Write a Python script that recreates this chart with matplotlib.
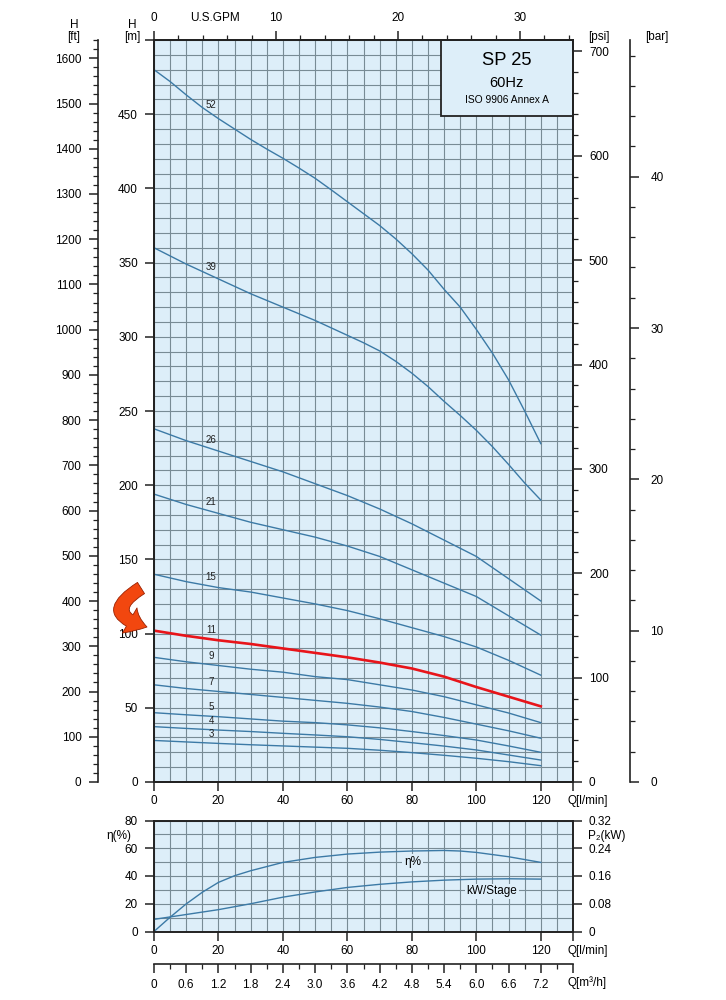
import numpy as np
import matplotlib.pyplot as plt
from matplotlib.patches import Rectangle, FancyArrowPatch

plt.rcParams['font.family'] = ['Liberation Sans', 'DejaVu Sans']
plt.rcParams['font.size'] = 8.5

# flow points [l/min]
q_lpm = [0, 10, 20, 30, 40, 50, 60, 70, 80, 90, 100, 110, 120]
q_fine = [0, 5, 10, 15, 20, 25, 30, 35, 40, 45, 50, 55, 60, 65, 70, 75, 80,
          85, 90, 95, 100, 105, 110, 115, 120]

# head curves [m], one per number of stages
stages = ['52', '39', '26', '21', '15', '11', '9', '7', '5', '4', '3']
h52 = [480, 472, 463, 454.5, 447, 440, 433, 426.5, 420.3, 413.7, 406.8, 399,
       391, 383, 375, 366, 356, 345, 332, 320, 305, 289, 271, 250, 228]
h39 = [360, 354.5, 349, 344, 339, 334, 329, 324.5, 320, 315.5, 311, 306, 301,
       296, 290.5, 283.5, 275.5, 266.5, 256.5, 247, 237, 226, 214, 201.5, 190]
h26 = [238, 230, 223, 216, 209, 201, 193, 184, 174, 163, 152, 137, 122]
h21 = [194, 187, 181, 175, 170, 165, 159, 152, 143, 134, 125, 112, 99]
h15 = [140, 135, 131, 128, 124, 120, 115.5, 110, 104, 98, 91, 82, 72]
h11 = [102, 98.5, 95.5, 93, 90, 87, 84, 80.5, 76.5, 71, 64, 57.5, 51]
h9 = [84, 81, 78.5, 76, 74, 71, 69, 65.5, 62, 57.5, 52, 46.5, 40]
h7 = [65.5, 63, 61, 59, 57, 55, 53, 50.5, 47.5, 43.5, 39, 34.5, 29.5]
h5 = [46.7, 45.3, 44, 42.5, 41, 40, 38.5, 36.5, 34, 31.3, 28.3, 24.3, 20]
h4 = [37.3, 36.1, 35, 34, 32.8, 31.7, 30.5, 28.7, 26.5, 24.2, 21.6, 18.2, 14.8]
h3 = [28, 27, 26, 25.1, 24.3, 23.5, 22.7, 21.4, 19.8, 18, 16, 13.7, 11]
heads = [h52, h39, h26, h21, h15, h11, h9, h7, h5, h4, h3]
head_q = [q_fine, q_fine] + [q_lpm] * 9
highlight = '11'

# efficiency [%]
q_eff = [0, 5, 10, 15, 20, 25, 30, 40, 50, 60, 70, 80, 90, 95, 100, 110, 120]
eff = [0, 10.3, 19.9, 28.3, 35.4, 40.2, 43.8, 49.8, 53.4, 55.8, 57.2, 58, 58.4,
       58, 57, 53.9, 49.8]

# shaft power per stage [kW]
p2 = [0.035, 0.049, 0.063, 0.08, 0.099, 0.114, 0.127, 0.136, 0.143, 0.148,
      0.151, 0.152, 0.151]

m3h_ticks = ['0', '0.6', '1.2', '1.8', '2.4', '3.0', '3.6', '4.2', '4.8',
             '5.4', '6.0', '6.6', '7.2', '']
kw_ticks = ['0', '0.08', '0.16', '0.24', '0.32']

W, H = 726, 1000
def fx(px): return px / W
def fy(py): return 1 - py / H

bg = '#ddeef9'
grid_c = '#788b95'
curve_c = '#3c7aa6'
ink = '#222222'

def style(a):
    for s in a.spines.values():
        s.set_color(ink)
        s.set_linewidth(1.2)
    a.tick_params(which='major', length=6.5, width=1.1, color=ink, pad=3)
    a.tick_params(which='minor', length=3.5, width=0.9, color=ink)

fig = plt.figure(figsize=(7.26, 10), dpi=100)

# ---- main H-Q chart
ax = fig.add_axes([fx(154), fy(782), (573 - 154) / W, (782 - 40) / H])
ax.set_facecolor(bg)
ax.set_xlim(0, 130)
ax.set_ylim(0, 500)
ax.set_xticks(list(range(0, 121, 20)) + [130],
              [str(v) for v in range(0, 121, 20)] + [''])
ax.set_xticks(np.arange(0, 131, 5), minor=True)
ax.set_yticks(np.arange(0, 501, 50),
              [str(v) for v in range(0, 451, 50)] + [''])
ax.set_yticks(np.arange(0, 501, 10), minor=True)
style(ax)
ax.tick_params(axis='y', pad=5)
ax.tick_params(which='minor', length=0)
ax.grid(which='both', color=grid_c, lw=0.8)
ax.set_axisbelow(True)

for lab, q, h in zip(stages, head_q, heads):
    if lab == highlight:
        ax.plot(q, h, color='#e8141a', lw=1.9, zorder=3)
    else:
        ax.plot(q, h, color=curve_c, lw=1.0, zorder=2)
    ax.text(17.7, np.interp(17.7, q, h) + 6, lab, fontsize=7,
            ha='center', va='center', color=ink, zorder=4)

ax.add_patch(Rectangle((89, 448.8), 41, 51.2, facecolor=bg, edgecolor=ink,
                       lw=1.3, zorder=5, clip_on=False))
ax.text(109.5, 486.5, 'SP 25', fontsize=13.2, ha='center', va='center', zorder=6)
ax.text(109.5, 471, '60Hz', fontsize=10.5, ha='center', va='center', zorder=6)
ax.text(109.5, 459.6, 'ISO 9906 Annex A', fontsize=7.4, ha='center',
        va='center', zorder=6)

# psi scale on the right
axp = ax.twinx()
axp.set_ylim(0, 500 * 1.42197)
axp.set_yticks(np.arange(0, 701, 100))
axp.set_yticks(np.arange(0, 711, 20), minor=True)
style(axp)
axp.tick_params(axis='y', pad=5)

# U.S. GPM scale on top
axg = ax.twiny()
axg.set_xlim(0, 130 / 3.78541)
axg.set_xticks([0, 10, 20, 30])
axg.set_xticks(np.arange(0, 35, 2), minor=True)
style(axg)
axg.tick_params(axis='x', pad=5)

# ft scale, separate spine on the left
axf = fig.add_axes([fx(97.5), fy(782), 1e-4, (782 - 40) / H])
axf.patch.set_visible(False)
for k in ['top', 'bottom', 'right']:
    axf.spines[k].set_visible(False)
axf.set_ylim(0, 500 * 3.28084)
axf.set_yticks(np.arange(0, 1601, 100))
axf.set_yticks(np.arange(0, 1641, 20), minor=True)
axf.set_xticks([])
style(axf)
axf.tick_params(axis='y', pad=5)

# bar scale, separate spine on the right
axb = fig.add_axes([fx(630), fy(782), 1e-4, (782 - 40) / H])
axb.patch.set_visible(False)
for k in ['top', 'bottom', 'left']:
    axb.spines[k].set_visible(False)
axb.yaxis.tick_right()
axb.set_ylim(0, 500 * 0.0980665)
axb.set_yticks(np.arange(0, 41, 10))
axb.set_yticks(np.arange(0, 49, 2), minor=True)
axb.set_xticks([])
style(axb)
axb.tick_params(axis='y', pad=8)

fig.text(fx(74), fy(25), 'H', ha='center', va='center')
fig.text(fx(74), fy(37), '[ft]', ha='center', va='center')
fig.text(fx(132), fy(25), 'H', ha='center', va='center')
fig.text(fx(132), fy(37), '[m]', ha='center', va='center')
fig.text(fx(599), fy(37), '[psi]', ha='center', va='center')
fig.text(fx(657), fy(37), '[bar]', ha='center', va='center')
fig.text(fx(215), fy(18), 'U.S.GPM', ha='center', va='center')
fig.text(fx(568), fy(801), 'Q[l/min]', ha='left', va='center')

fig.add_artist(FancyArrowPatch(
    posA=(fx(141), fy(588)), posB=(fx(147), fy(627)),
    transform=fig.transFigure, connectionstyle='arc3,rad=1.15',
    arrowstyle='simple,head_length=0.7,head_width=1.1,tail_width=0.5',
    mutation_scale=19, facecolor='#f2470f', edgecolor='#9a2000', lw=0.6,
    shrinkA=0, shrinkB=0))

# ---- efficiency / power chart
axe = fig.add_axes([fx(154), fy(931.5), (573 - 154) / W, (931.5 - 820.5) / H])
axe.set_facecolor(bg)
axe.set_xlim(0, 130)
axe.set_ylim(0, 80)
axe.set_xticks(list(range(0, 121, 20)) + [130],
               [str(v) for v in range(0, 121, 20)] + [''])
axe.set_xticks(np.arange(0, 131, 5), minor=True)
axe.set_yticks(np.arange(0, 81, 20))
axe.set_yticks(np.arange(0, 81, 10), minor=True)
style(axe)
axe.tick_params(axis='y', pad=5)
axe.tick_params(which='minor', length=0)
axe.grid(which='both', color=grid_c, lw=0.8)
axe.set_axisbelow(True)
axe.plot(q_eff, eff, color=curve_c, lw=1.0)

axk = axe.twinx()
axk.set_ylim(0, 0.32)
axk.set_yticks([0, 0.08, 0.16, 0.24, 0.32], kw_ticks)
style(axk)
axk.tick_params(axis='y', pad=5)
axk.plot(q_lpm, p2, color=curve_c, lw=1.0)

# curve names drawn on the top twin so nothing covers them
axk.text(80.3 / 130, 49.8 / 80, 'η%', transform=axk.transAxes,
         ha='center', va='center', zorder=4,
         bbox=dict(facecolor=bg, edgecolor='none', pad=1.5))
axk.text(104.8 / 130, 29 / 80, 'kW/Stage', transform=axk.transAxes,
         ha='center', va='center', zorder=4,
         bbox=dict(facecolor=bg, edgecolor='none', pad=1.0))

fig.text(fx(119), fy(836), 'η(%)', ha='center', va='center')
fig.text(fx(588), fy(836), 'P₂(kW)', ha='left', va='center')
fig.text(fx(568), fy(951), 'Q[l/min]', ha='left', va='center')

# m3/h scale below
axm = fig.add_axes([fx(154), fy(964), (573 - 154) / W, 1e-4])
axm.patch.set_visible(False)
for k in ['top', 'left', 'right']:
    axm.spines[k].set_visible(False)
axm.set_xlim(0, 7.8)
axm.set_xticks(np.arange(0, 7.81, 0.6), m3h_ticks)
axm.set_xticks(np.arange(0, 7.81, 0.3), minor=True)
axm.set_yticks([])
style(axm)
axm.tick_params(axis='x', pad=4)
fig.text(fx(568), fy(983), 'Q[m³/h]', ha='left', va='center')

fig.savefig('out.png', dpi=100)
